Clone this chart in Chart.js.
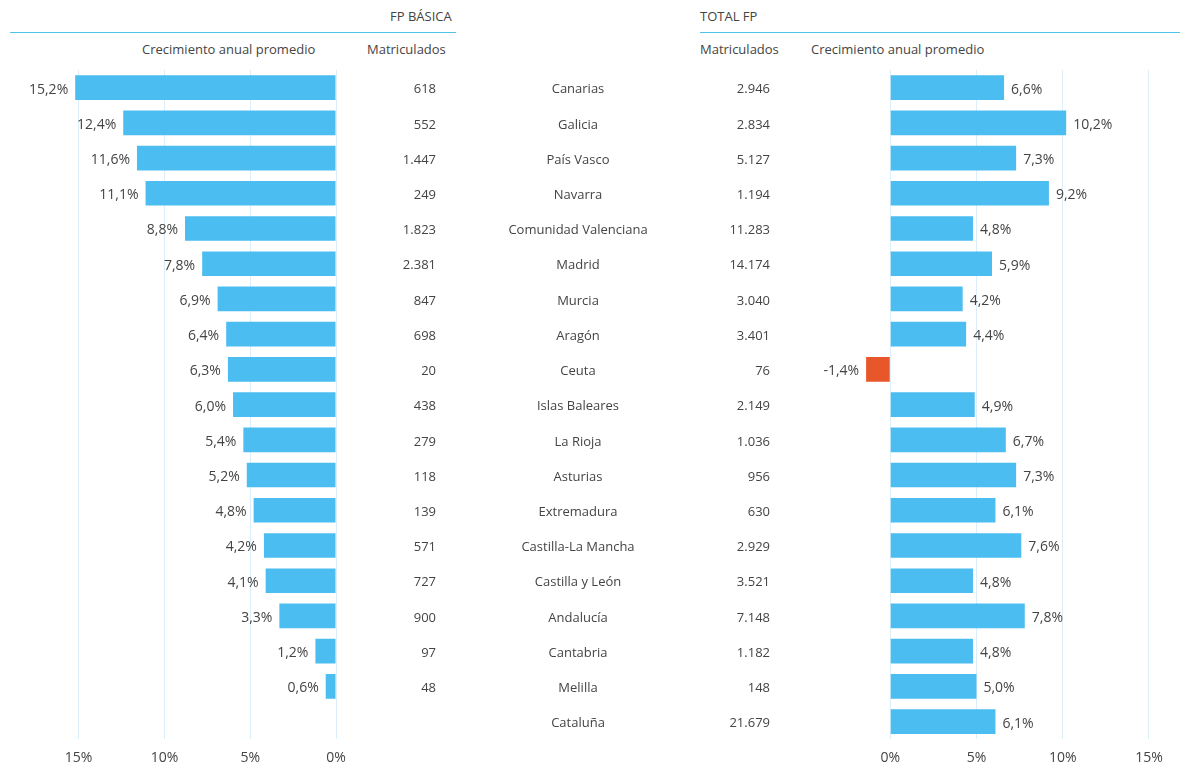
<!DOCTYPE html>
<html><head><meta charset="utf-8">
<script src="https://cdn.jsdelivr.net/npm/chart.js@4"></script>
<style>
body{margin:0;width:1180px;height:782px;background:#fff;font-family:"Open Sans",sans-serif;color:#444;position:relative;overflow:hidden}
canvas{position:absolute;top:0}
.t{position:absolute;font-size:13px;white-space:nowrap}
.line{position:absolute;height:1px;background:#4fc3e8;top:32px}
</style></head><body>
<div class="t" style="left:390px;top:7px">FP BÁSICA</div>
<div class="t" style="left:700px;top:7px">TOTAL FP</div>
<div class="line" style="left:10px;width:446px"></div>
<div class="line" style="left:700px;width:480px"></div>
<div class="t" style="left:142px;top:40px">Crecimiento anual promedio</div>
<div class="t" style="left:367px;top:40px">Matriculados</div>
<div class="t" style="left:700px;top:40px">Matriculados</div>
<div class="t" style="left:811px;top:40px">Crecimiento anual promedio</div>
<div style="position:absolute;left:0;width:460px;height:782px"><canvas id="cl"></canvas></div>
<div style="position:absolute;left:460px;width:720px;height:782px"><canvas id="cr"></canvas></div>
<script>
const regions = ['Canarias','Galicia','País Vasco','Navarra','Comunidad Valenciana','Madrid','Murcia','Aragón','Ceuta','Islas Baleares','La Rioja','Asturias','Extremadura','Castilla-La Mancha','Castilla y León','Andalucía','Cantabria','Melilla','Cataluña'];
const basicaGrowth = [15.2,12.4,11.6,11.1,8.8,7.8,6.9,6.4,6.3,6.0,5.4,5.2,4.8,4.2,4.1,3.3,1.2,0.6,null];
const basicaEnrolled = ['618','552','1.447','249','1.823','2.381','847','698','20','438','279','118','139','571','727','900','97','48',''];
const totalGrowth = [6.6,10.2,7.3,9.2,4.8,5.9,4.2,4.4,-1.4,4.9,6.7,7.3,6.1,7.6,4.8,7.8,4.8,5.0,6.1];
const totalEnrolled = ['2.946','2.834','5.127','1.194','11.283','14.174','3.040','3.401','76','2.149','1.036','956','630','2.929','3.521','7.148','1.182','148','21.679'];
const tickValues = [0,5,10,15];

const BLUE = '#4bbdf0', RED = '#e8572a', TXT = '#444';
const FONT = '"Open Sans", sans-serif';
const fmt = v => v.toFixed(1).replace('.', ',') + '%';

function keepTicks(scale) {
  scale.ticks = tickValues.map(v => ({ value: v }));
}

const labelPlugin = {
  id: 'labels',
  afterDatasetsDraw(chart, args, opts) {
    const { ctx } = chart;
    const meta = chart.getDatasetMeta(0);
    const y = chart.scales.y;
    ctx.save();
    ctx.font = '14px ' + FONT;
    ctx.fillStyle = TXT;
    ctx.textBaseline = 'middle';
    chart.data.datasets[0].data.forEach((v, i) => {
      const py = y.getPixelForValue(i) + 2;
      if (v !== null) {
        const bar = meta.data[i];
        const leftward = opts.side === 'left' ? true : v < 0;
        ctx.textAlign = leftward ? 'right' : 'left';
        ctx.fillText(fmt(v), bar.x + (leftward ? -7 : 7), py);
      }
      ctx.font = '13px ' + FONT;
      opts.columns.forEach(c => {
        ctx.textAlign = c.align;
        ctx.fillText(c.values[i], c.x, py);
      });
      ctx.font = '14px ' + FONT;
    });
    ctx.restore();
  }
};

function makeChart(id, data, colors, xOpts, padding, pluginOpts) {
  return new Chart(document.getElementById(id), {
    type: 'bar',
    data: { labels: regions, datasets: [{ data, backgroundColor: colors, barPercentage: 0.7, categoryPercentage: 1 }] },
    options: {
      indexAxis: 'y', responsive: true, maintainAspectRatio: false, animation: false,
      layout: { padding },
      plugins: { legend: { display: false }, tooltip: { enabled: false }, labels: pluginOpts },
      scales: {
        y: { display: false },
        x: Object.assign({
          afterBuildTicks: keepTicks,
          border: { display: false },
          grid: { color: '#dceef9', drawTicks: false },
          ticks: { color: TXT, font: { size: 14, family: FONT }, padding: 10, callback: v => v + '%' }
        }, xOpts)
      }
    },
    plugins: [labelPlugin]
  });
}

makeChart('cl', basicaGrowth, BLUE, { reverse: true, min: 0, max: 19 },
  { left: 10, right: 124, top: 70, bottom: 6 },
  { side: 'left', columns: [{ x: 436, align: 'right', values: basicaEnrolled }] });

makeChart('cr', totalGrowth, totalGrowth.map(v => v < 0 ? RED : BLUE), { min: -5, max: 16.8 },
  { left: 344, right: 0, top: 70, bottom: 6 },
  { side: 'right', columns: [
    { x: 118, align: 'center', values: regions },
    { x: 310, align: 'right', values: totalEnrolled }
  ] });
</script>
</body></html>
